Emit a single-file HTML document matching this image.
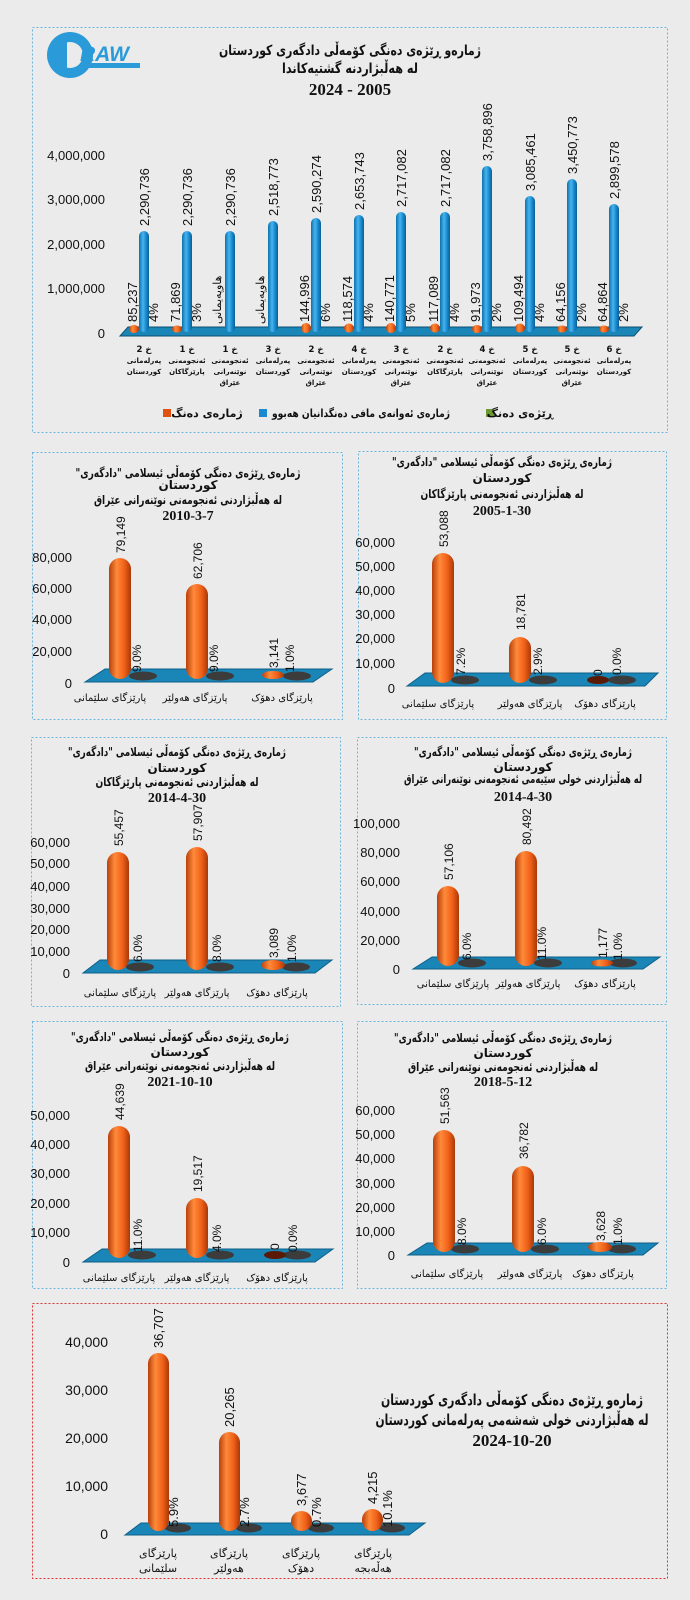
<!DOCTYPE html>
<html><head><meta charset="utf-8">
<style>
html,body{margin:0;padding:0;background:#ebebeb;}
svg{display:block}
.n{font-family:"Liberation Sans",sans-serif;fill:#111}
.k{font-family:"DejaVu Sans","Liberation Sans",sans-serif;font-weight:bold;fill:#111}
.c{font-family:"DejaVu Sans","Liberation Sans",sans-serif;fill:#111}
.d{font-family:"Liberation Serif",serif;font-weight:bold;fill:#111}
.bd{fill:none;stroke:#6cb4dc;stroke-width:1;stroke-dasharray:2,2}
.fl{fill:#1a86b8;stroke:#0e5f88;stroke-width:1}
.el{fill:#3c3c3c}
</style></head><body>
<svg width="690" height="1600" viewBox="0 0 690 1600" xmlns="http://www.w3.org/2000/svg">
<defs>
<linearGradient id="og" x1="0" x2="1" y1="0" y2="0">
<stop offset="0" stop-color="#b8400a"/><stop offset="0.35" stop-color="#ff8a3a"/><stop offset="0.7" stop-color="#f06018"/><stop offset="1" stop-color="#a83808"/></linearGradient>
<linearGradient id="bg" x1="0" x2="1" y1="0" y2="0">
<stop offset="0" stop-color="#0d6fa8"/><stop offset="0.4" stop-color="#45b4f0"/><stop offset="0.7" stop-color="#1a8ad0"/><stop offset="1" stop-color="#0a5e90"/></linearGradient>
</defs>
<rect width="690" height="1600" fill="#ebebeb"/>

<!-- ===== TOP PANEL ===== -->
<rect class="bd" x="32.5" y="27.5" width="635" height="405"/>
<circle cx="70" cy="55" r="23" fill="#2a9ad8"/>
<circle cx="70" cy="55" r="13" fill="#ebebeb"/>
<rect x="57" y="42" width="10" height="26" fill="#2a9ad8"/>
<text x="80" y="61" style="font-family:'Liberation Sans',sans-serif;font-weight:bold;font-style:italic;font-size:21px;fill:#2a9ad8">RAW</text>
<rect x="80" y="63" width="60" height="5" fill="#2a9ad8"/>
<text class="k" x="350" y="55" text-anchor="middle" font-size="14" textLength="262" lengthAdjust="spacingAndGlyphs">ژمارەو ڕێژەی دەنگی کۆمەڵی دادگەری کوردستان</text>
<text class="k" x="350" y="73" text-anchor="middle" font-size="14" textLength="136" lengthAdjust="spacingAndGlyphs">لە هەڵبژاردنە گشتیەکاندا</text>
<text class="d" x="350" y="95" text-anchor="middle" font-size="17">2024 - 2005</text>

<g class="n" font-size="13" text-anchor="end">
<text x="105" y="160">4,000,000</text><text x="105" y="204">3,000,000</text><text x="105" y="249">2,000,000</text><text x="105" y="293">1,000,000</text><text x="105" y="338">0</text>
</g>
<polygon points="120,336 128,327 642,327 634,336" fill="#1a86b8" stroke="#0e4f70"/>
<g fill="url(#og)">
<ellipse cx="134" cy="329" rx="5" ry="4"/><ellipse cx="177" cy="329" rx="5" ry="3.5"/>
<ellipse cx="306" cy="328" rx="5" ry="5"/><ellipse cx="349" cy="328" rx="5" ry="4.5"/><ellipse cx="391" cy="328" rx="5" ry="5"/><ellipse cx="435" cy="328" rx="5" ry="4.5"/><ellipse cx="477" cy="329" rx="5" ry="4"/><ellipse cx="520" cy="328" rx="5" ry="4.5"/><ellipse cx="562" cy="329" rx="5" ry="3.5"/><ellipse cx="604" cy="329" rx="5" ry="3.5"/>
</g>
<g fill="url(#bg)">
<rect x="139" y="231" width="10" height="101" rx="5"/>
<rect x="182" y="231" width="10" height="101" rx="5"/>
<rect x="225" y="231" width="10" height="101" rx="5"/>
<rect x="268" y="221" width="10" height="111" rx="5"/>
<rect x="311" y="218" width="10" height="114" rx="5"/>
<rect x="354" y="215" width="10" height="117" rx="5"/>
<rect x="396" y="212" width="10" height="120" rx="5"/>
<rect x="440" y="212" width="10" height="120" rx="5"/>
<rect x="482" y="166" width="10" height="166" rx="5"/>
<rect x="525" y="196" width="10" height="136" rx="5"/>
<rect x="567" y="179" width="10" height="153" rx="5"/>
<rect x="609" y="204" width="10" height="128" rx="5"/>
</g>
<g class="n" font-size="13">
<text transform="translate(149,226) rotate(-90)">2,290,736</text>
<text transform="translate(192,226) rotate(-90)">2,290,736</text>
<text transform="translate(235,226) rotate(-90)">2,290,736</text>
<text transform="translate(278,216) rotate(-90)">2,518,773</text>
<text transform="translate(321,213) rotate(-90)">2,590,274</text>
<text transform="translate(364,210) rotate(-90)">2,653,743</text>
<text transform="translate(406,207) rotate(-90)">2,717,082</text>
<text transform="translate(450,207) rotate(-90)">2,717,082</text>
<text transform="translate(492,161) rotate(-90)">3,758,896</text>
<text transform="translate(535,191) rotate(-90)">3,085,461</text>
<text transform="translate(577,174) rotate(-90)">3,450,773</text>
<text transform="translate(619,199) rotate(-90)">2,899,578</text>
</g>
<g class="n" font-size="13">
<text transform="translate(137,322) rotate(-90)">85,237</text>
<text transform="translate(180,322) rotate(-90)">71,869</text>
<text transform="translate(309,322) rotate(-90)">144,996</text>
<text transform="translate(352,322) rotate(-90)">118,574</text>
<text transform="translate(394,322) rotate(-90)">140,771</text>
<text transform="translate(438,322) rotate(-90)">117,089</text>
<text transform="translate(480,322) rotate(-90)">91,973</text>
<text transform="translate(523,322) rotate(-90)">109,494</text>
<text transform="translate(565,322) rotate(-90)">64,156</text>
<text transform="translate(607,322) rotate(-90)">64,864</text>
<text transform="translate(158,322) rotate(-90)">4%</text>
<text transform="translate(201,322) rotate(-90)">3%</text>
<text transform="translate(330,322) rotate(-90)">6%</text>
<text transform="translate(373,322) rotate(-90)">4%</text>
<text transform="translate(415,322) rotate(-90)">5%</text>
<text transform="translate(459,322) rotate(-90)">4%</text>
<text transform="translate(501,322) rotate(-90)">2%</text>
<text transform="translate(544,322) rotate(-90)">4%</text>
<text transform="translate(586,322) rotate(-90)">2%</text>
<text transform="translate(628,322) rotate(-90)">2%</text>
</g>
<g class="c" font-size="11">
<text transform="translate(221,324) rotate(-90)">هاوپەیمانی</text>
<text transform="translate(264,324) rotate(-90)">هاوپەیمانی</text>
</g>
<g class="k" font-size="7" text-anchor="middle">
<text x="144" y="352" font-size="8.5">خ 2</text><text x="144" y="363">پەرلەمانی</text><text x="144" y="374">کوردستان</text>
<text x="187" y="352" font-size="8.5">خ 1</text><text x="187" y="363">ئەنجومەنی</text><text x="187" y="374">پارێزگاکان</text>
<text x="230" y="352" font-size="8.5">خ 1</text><text x="230" y="363">ئەنجومەنی</text><text x="230" y="374">نوێنەرانی</text><text x="230" y="385">عێراق</text>
<text x="273" y="352" font-size="8.5">خ 3</text><text x="273" y="363">پەرلەمانی</text><text x="273" y="374">کوردستان</text>
<text x="316" y="352" font-size="8.5">خ 2</text><text x="316" y="363">ئەنجومەنی</text><text x="316" y="374">نوێنەرانی</text><text x="316" y="385">عێراق</text>
<text x="359" y="352" font-size="8.5">خ 4</text><text x="359" y="363">پەرلەمانی</text><text x="359" y="374">کوردستان</text>
<text x="401" y="352" font-size="8.5">خ 3</text><text x="401" y="363">ئەنجومەنی</text><text x="401" y="374">نوێنەرانی</text><text x="401" y="385">عێراق</text>
<text x="445" y="352" font-size="8.5">خ 2</text><text x="445" y="363">ئەنجومەنی</text><text x="445" y="374">پارێزگاکان</text>
<text x="487" y="352" font-size="8.5">خ 4</text><text x="487" y="363">ئەنجومەنی</text><text x="487" y="374">نوێنەرانی</text><text x="487" y="385">عێراق</text>
<text x="530" y="352" font-size="8.5">خ 5</text><text x="530" y="363">پەرلەمانی</text><text x="530" y="374">کوردستان</text>
<text x="572" y="352" font-size="8.5">خ 5</text><text x="572" y="363">ئەنجومەنی</text><text x="572" y="374">نوێنەرانی</text><text x="572" y="385">عێراق</text>
<text x="614" y="352" font-size="8.5">خ 6</text><text x="614" y="363">پەرلەمانی</text><text x="614" y="374">کوردستان</text>
</g>
<rect x="163" y="409" width="8" height="8" fill="#e05010"/>
<text class="k" x="207" y="417" text-anchor="middle" font-size="11">ژمارەی دەنگ</text>
<rect x="259" y="409" width="8" height="8" fill="#1a8ad0"/>
<text class="k" x="361" y="417" text-anchor="middle" font-size="11" textLength="178" lengthAdjust="spacingAndGlyphs">ژمارەی ئەوانەی مافی دەنگدانیان هەبوو</text>
<rect x="486" y="409" width="8" height="8" fill="#6a9a30"/>
<text class="k" x="520" y="417" text-anchor="middle" font-size="11">ڕێژەی دەنگ</text>

<!-- ===== PANEL A ===== -->
<rect class="bd" x="32.5" y="452.5" width="310" height="267"/>
<g class="k" font-size="12" text-anchor="middle" direction="rtl">
<text x="188" y="477" textLength="225" lengthAdjust="spacingAndGlyphs">ژمارەی ڕێژەی دەنگی کۆمەڵی ئیسلامی "دادگەری"</text>
<text x="188" y="489">کوردستان</text>
<text x="188" y="504" textLength="188" lengthAdjust="spacingAndGlyphs">لە هەڵبژاردنی ئەنجومەنی نوێنەرانی عێراق</text>
</g>
<text class="d" x="188" y="520" text-anchor="middle" font-size="14">2010-3-7</text>
<g class="n" font-size="13" text-anchor="end">
<text x="72" y="562">80,000</text><text x="72" y="593">60,000</text><text x="72" y="624">40,000</text><text x="72" y="656">20,000</text><text x="72" y="688">0</text>
</g>
<polygon class="fl" points="85,682 105,669 332,669 313,682"/>
<ellipse class="el" cx="143" cy="676" rx="14" ry="4.5"/><ellipse class="el" cx="220" cy="676" rx="14" ry="4.5"/><ellipse class="el" cx="297" cy="676" rx="14" ry="4.5"/>
<g fill="url(#og)">
<rect x="109" y="558" width="22" height="121" rx="11"/>
<rect x="186" y="584" width="22" height="95" rx="11"/>
<ellipse cx="273" cy="675" rx="11" ry="4"/>
</g>
<g class="n" font-size="12">
<text transform="translate(125,553) rotate(-90)">79,149</text>
<text transform="translate(202,579) rotate(-90)">62,706</text>
<text transform="translate(278,668) rotate(-90)">3,141</text>
<text transform="translate(141,672) rotate(-90)">9.0%</text>
<text transform="translate(218,672) rotate(-90)">9.0%</text>
<text transform="translate(294,672) rotate(-90)">1.0%</text>
</g>
<g class="c" font-size="10" text-anchor="middle">
<text x="110" y="701">پارێزگای سلێمانی</text><text x="195" y="701">پارێزگای هەولێر</text><text x="282" y="701">پارێزگای دهۆک</text>
</g>

<!-- ===== PANEL B ===== -->
<rect class="bd" x="358.5" y="451.5" width="308" height="268"/>
<g class="k" font-size="12" text-anchor="middle" direction="rtl">
<text x="502" y="466" textLength="220" lengthAdjust="spacingAndGlyphs">ژمارەی ڕێژەی دەنگی کۆمەڵی ئیسلامی "دادگەری"</text>
<text x="502" y="482">کوردستان</text>
<text x="502" y="498" textLength="163" lengthAdjust="spacingAndGlyphs">لە هەڵبژاردنی ئەنجومەنی پارێزگاکان</text>
</g>
<text class="d" x="502" y="515" text-anchor="middle" font-size="14">2005-1-30</text>
<g class="n" font-size="13" text-anchor="end">
<text x="395" y="547">60,000</text><text x="395" y="571">50,000</text><text x="395" y="595">40,000</text><text x="395" y="619">30,000</text><text x="395" y="643">20,000</text><text x="395" y="668">10,000</text><text x="395" y="693">0</text>
</g>
<polygon class="fl" points="407,686 425,673 658,673 645,686"/>
<ellipse class="el" cx="465" cy="680" rx="14" ry="4.5"/><ellipse class="el" cx="543" cy="680" rx="14" ry="4.5"/><ellipse class="el" cx="622" cy="680" rx="14" ry="4.5"/>
<ellipse cx="598" cy="680" rx="11" ry="4" fill="#5a1a05"/>
<g fill="url(#og)">
<rect x="432" y="553" width="22" height="130" rx="11"/>
<rect x="509" y="637" width="22" height="46" rx="11"/>
</g>
<g class="n" font-size="12">
<text transform="translate(448,547) rotate(-90)">53,088</text>
<text transform="translate(525,630) rotate(-90)">18,781</text>
<text transform="translate(602,676) rotate(-90)">0</text>
<text transform="translate(465,675) rotate(-90)">7.2%</text>
<text transform="translate(542,675) rotate(-90)">2.9%</text>
<text transform="translate(621,675) rotate(-90)">0.0%</text>
</g>
<g class="c" font-size="10" text-anchor="middle">
<text x="438" y="707">پارێزگای سلێمانی</text><text x="530" y="707">پارێزگای هەولێر</text><text x="605" y="707">پارێزگای دهۆک</text>
</g>

<!-- ===== PANEL C ===== -->
<rect class="bd" x="31.5" y="737.5" width="309" height="269"/>
<g class="k" font-size="12" text-anchor="middle" direction="rtl">
<text x="177" y="756" textLength="218" lengthAdjust="spacingAndGlyphs">ژمارەی ڕێژەی دەنگی کۆمەڵی ئیسلامی "دادگەری"</text>
<text x="177" y="772">کوردستان</text>
<text x="177" y="786" textLength="163" lengthAdjust="spacingAndGlyphs">لە هەڵبژاردنی ئەنجومەنی پارێزگاکان</text>
</g>
<text class="d" x="177" y="802" text-anchor="middle" font-size="14">2014-4-30</text>
<g class="n" font-size="13" text-anchor="end">
<text x="70" y="847">60,000</text><text x="70" y="868">50,000</text><text x="70" y="891">40,000</text><text x="70" y="913">30,000</text><text x="70" y="934">20,000</text><text x="70" y="956">10,000</text><text x="70" y="978">0</text>
</g>
<polygon class="fl" points="83,973 100,960 332,960 315,973"/>
<ellipse class="el" cx="140" cy="967" rx="14" ry="4.5"/><ellipse class="el" cx="220" cy="967" rx="14" ry="4.5"/><ellipse class="el" cx="296" cy="967" rx="14" ry="4.5"/>
<g fill="url(#og)">
<rect x="107" y="852" width="22" height="118" rx="11"/>
<rect x="186" y="847" width="22" height="123" rx="11"/>
<ellipse cx="273" cy="965" rx="12" ry="5"/>
</g>
<g class="n" font-size="12">
<text transform="translate(123,846) rotate(-90)">55,457</text>
<text transform="translate(202,841) rotate(-90)">57,907</text>
<text transform="translate(278,958) rotate(-90)">3,089</text>
<text transform="translate(142,962) rotate(-90)">6.0%</text>
<text transform="translate(221,962) rotate(-90)">8.0%</text>
<text transform="translate(296,962) rotate(-90)">1.0%</text>
</g>
<g class="c" font-size="10" text-anchor="middle">
<text x="120" y="996">پارێزگای سلێمانی</text><text x="197" y="996">پارێزگای هەولێر</text><text x="277" y="996">پارێزگای دهۆک</text>
</g>

<!-- ===== PANEL D ===== -->
<rect class="bd" x="357.5" y="737.5" width="309" height="267"/>
<g class="k" font-size="12" text-anchor="middle" direction="rtl">
<text x="523" y="756" textLength="218" lengthAdjust="spacingAndGlyphs">ژمارەی ڕێژەی دەنگی کۆمەڵی ئیسلامی "دادگەری"</text>
<text x="523" y="771">کوردستان</text>
<text x="523" y="783" textLength="238" lengthAdjust="spacingAndGlyphs">لە هەڵبژاردنی خولی سێیەمی ئەنجومەنی نوێنەرانی عێراق</text>
</g>
<text class="d" x="523" y="801" text-anchor="middle" font-size="14">2014-4-30</text>
<g class="n" font-size="13" text-anchor="end">
<text x="400" y="828">100,000</text><text x="400" y="857">80,000</text><text x="400" y="886">60,000</text><text x="400" y="916">40,000</text><text x="400" y="945">20,000</text><text x="400" y="974">0</text>
</g>
<polygon class="fl" points="413,969 432,957 660,957 643,969"/>
<ellipse class="el" cx="472" cy="963" rx="14" ry="4.5"/><ellipse class="el" cx="548" cy="963" rx="14" ry="4.5"/><ellipse class="el" cx="623" cy="963" rx="14" ry="4.5"/>
<g fill="url(#og)">
<rect x="437" y="886" width="22" height="80" rx="11"/>
<rect x="515" y="851" width="22" height="115" rx="11"/>
<ellipse cx="602" cy="963" rx="11" ry="3.5"/>
</g>
<g class="n" font-size="12">
<text transform="translate(453,880) rotate(-90)">57,106</text>
<text transform="translate(531,845) rotate(-90)">80,492</text>
<text transform="translate(607,958) rotate(-90)">1,177</text>
<text transform="translate(471,960) rotate(-90)">6.0%</text>
<text transform="translate(546,960) rotate(-90)">11.0%</text>
<text transform="translate(622,960) rotate(-90)">1.0%</text>
</g>
<g class="c" font-size="10" text-anchor="middle">
<text x="453" y="987">پارێزگای سلێمانی</text><text x="528" y="987">پارێزگای هەولێر</text><text x="605" y="987">پارێزگای دهۆک</text>
</g>

<!-- ===== PANEL E ===== -->
<rect class="bd" x="32.5" y="1021.5" width="310" height="267"/>
<g class="k" font-size="12" text-anchor="middle" direction="rtl">
<text x="180" y="1041" textLength="218" lengthAdjust="spacingAndGlyphs">ژمارەی ڕێژەی دەنگی کۆمەڵی ئیسلامی "دادگەری"</text>
<text x="180" y="1056">کوردستان</text>
<text x="180" y="1070" textLength="190" lengthAdjust="spacingAndGlyphs">لە هەڵبژاردنی ئەنجومەنی نوێنەرانی عێراق</text>
</g>
<text class="d" x="180" y="1086" text-anchor="middle" font-size="14">2021-10-10</text>
<g class="n" font-size="13" text-anchor="end">
<text x="70" y="1120">50,000</text><text x="70" y="1149">40,000</text><text x="70" y="1178">30,000</text><text x="70" y="1208">20,000</text><text x="70" y="1237">10,000</text><text x="70" y="1267">0</text>
</g>
<polygon class="fl" points="83,1262 102,1249 333,1249 315,1262"/>
<ellipse class="el" cx="142" cy="1255" rx="14" ry="4.5"/><ellipse class="el" cx="220" cy="1255" rx="14" ry="4.5"/><ellipse class="el" cx="297" cy="1255" rx="14" ry="4.5"/>
<ellipse cx="275" cy="1255" rx="11" ry="4" fill="#5a1a05"/>
<g fill="url(#og)">
<rect x="108" y="1126" width="22" height="132" rx="11"/>
<rect x="186" y="1198" width="22" height="60" rx="11"/>
</g>
<g class="n" font-size="12">
<text transform="translate(124,1120) rotate(-90)">44,639</text>
<text transform="translate(202,1192) rotate(-90)">19,517</text>
<text transform="translate(279,1250) rotate(-90)">0</text>
<text transform="translate(142,1252) rotate(-90)">11.0%</text>
<text transform="translate(221,1252) rotate(-90)">4.0%</text>
<text transform="translate(297,1252) rotate(-90)">0.0%</text>
</g>
<g class="c" font-size="10" text-anchor="middle">
<text x="119" y="1281">پارێزگای سلێمانی</text><text x="197" y="1281">پارێزگای هەولێر</text><text x="277" y="1281">پارێزگای دهۆک</text>
</g>

<!-- ===== PANEL F ===== -->
<rect class="bd" x="357.5" y="1021.5" width="309" height="267"/>
<g class="k" font-size="12" text-anchor="middle" direction="rtl">
<text x="503" y="1042" textLength="218" lengthAdjust="spacingAndGlyphs">ژمارەی ڕێژەی دەنگی کۆمەڵی ئیسلامی "دادگەری"</text>
<text x="503" y="1057">کوردستان</text>
<text x="503" y="1071" textLength="190" lengthAdjust="spacingAndGlyphs">لە هەڵبژاردنی ئەنجومەنی نوێنەرانی عێراق</text>
</g>
<text class="d" x="503" y="1086" text-anchor="middle" font-size="14">2018-5-12</text>
<g class="n" font-size="13" text-anchor="end">
<text x="395" y="1115">60,000</text><text x="395" y="1139">50,000</text><text x="395" y="1163">40,000</text><text x="395" y="1188">30,000</text><text x="395" y="1212">20,000</text><text x="395" y="1236">10,000</text><text x="395" y="1260">0</text>
</g>
<polygon class="fl" points="408,1255 427,1243 658,1243 643,1255"/>
<ellipse class="el" cx="465" cy="1249" rx="14" ry="4.5"/><ellipse class="el" cx="545" cy="1249" rx="14" ry="4.5"/><ellipse class="el" cx="622" cy="1249" rx="14" ry="4.5"/>
<g fill="url(#og)">
<rect x="433" y="1130" width="22" height="122" rx="11"/>
<rect x="512" y="1166" width="22" height="86" rx="11"/>
<ellipse cx="600" cy="1247" rx="12" ry="5"/>
</g>
<g class="n" font-size="12">
<text transform="translate(449,1124) rotate(-90)">51,563</text>
<text transform="translate(528,1159) rotate(-90)">36,782</text>
<text transform="translate(605,1241) rotate(-90)">3,628</text>
<text transform="translate(466,1245) rotate(-90)">8.0%</text>
<text transform="translate(546,1245) rotate(-90)">6.0%</text>
<text transform="translate(622,1245) rotate(-90)">1.0%</text>
</g>
<g class="c" font-size="10" text-anchor="middle">
<text x="447" y="1277">پارێزگای سلێمانی</text><text x="530" y="1277">پارێزگای هەولێر</text><text x="603" y="1277">پارێزگای دهۆک</text>
</g>

<!-- ===== PANEL G ===== -->
<rect x="32.5" y="1303.5" width="635" height="275" fill="none" stroke="#e03030" stroke-width="1" stroke-dasharray="2,2"/>
<g class="n" font-size="14" text-anchor="end">
<text x="108" y="1347">40,000</text><text x="108" y="1395">30,000</text><text x="108" y="1443">20,000</text><text x="108" y="1491">10,000</text><text x="108" y="1539">0</text>
</g>
<polygon class="fl" points="125,1535 141,1523 425,1523 409,1535"/>
<ellipse class="el" cx="178" cy="1528" rx="13" ry="4.5"/><ellipse class="el" cx="249" cy="1528" rx="13" ry="4.5"/><ellipse class="el" cx="321" cy="1528" rx="13" ry="4.5"/><ellipse class="el" cx="392" cy="1528" rx="13" ry="4.5"/>
<g fill="url(#og)">
<rect x="148" y="1353" width="21" height="178" rx="10.5"/>
<rect x="219" y="1432" width="21" height="99" rx="10.5"/>
<rect x="291" y="1511" width="21" height="20" rx="10.5"/>
<rect x="362" y="1509" width="21" height="22" rx="10.5"/>
</g>
<g class="n" font-size="13">
<text transform="translate(163,1348) rotate(-90)">36,707</text>
<text transform="translate(234,1427) rotate(-90)">20,265</text>
<text transform="translate(306,1506) rotate(-90)">3,677</text>
<text transform="translate(377,1504) rotate(-90)">4,215</text>
<text transform="translate(178,1527) rotate(-90)">5.9%</text>
<text transform="translate(249,1527) rotate(-90)">2.7%</text>
<text transform="translate(321,1527) rotate(-90)">0.7%</text>
<text transform="translate(392,1527) rotate(-90)">10.1%</text>
</g>
<g class="c" font-size="11" text-anchor="middle">
<text x="158" y="1557">پارێزگای</text><text x="158" y="1572">سلێمانی</text>
<text x="229" y="1557">پارێزگای</text><text x="229" y="1572">هەولێر</text>
<text x="301" y="1557">پارێزگای</text><text x="301" y="1572">دهۆک</text>
<text x="373" y="1557">پارێزگای</text><text x="373" y="1572">هەڵەبجە</text>
</g>
<g class="k" font-size="15" text-anchor="middle">
<text x="512" y="1405" textLength="262" lengthAdjust="spacingAndGlyphs">ژمارەو ڕێژەی دەنگی کۆمەڵی دادگەری کوردستان</text>
<text x="512" y="1425" textLength="273" lengthAdjust="spacingAndGlyphs">لە هەڵبژاردنی خولی شەشەمی پەرلەمانی کوردستان</text>
</g>
<text class="d" x="512" y="1446" text-anchor="middle" font-size="17">2024-10-20</text>
</svg>
</body></html>
